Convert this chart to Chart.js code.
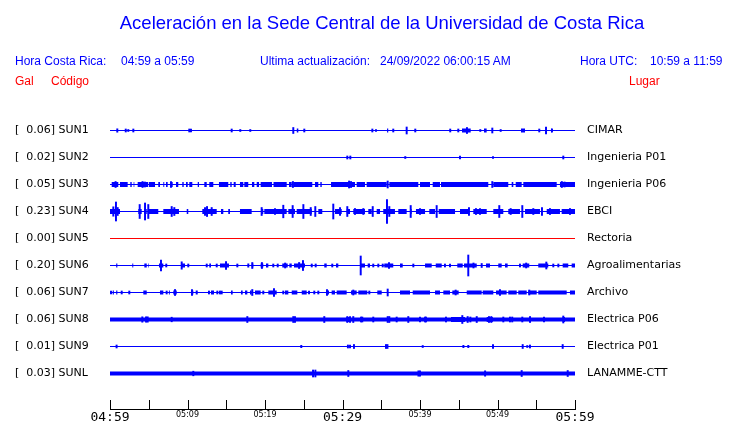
<!DOCTYPE html>
<html>
<head>
<meta charset="utf-8">
<script src="https://cdn.jsdelivr.net/npm/chart.js@4.4.0/dist/chart.umd.min.js"></script>
<style>
body { margin: 0; background: #fff; }
#wrap { position: relative; width: 740px; height: 423px; font-family: "Liberation Sans", Arial, sans-serif; }
#wrap canvas { position: absolute; left: 0; top: 0; }
.t { position: absolute; white-space: pre; font-size: 12px; line-height: 14px; color: #0000ff; }
.red { color: #ff0000; }
#title { position: absolute; left: 0; width: 764px; top: 12px; text-align: center; font-size: 18.5px; line-height: 22px; color: #0000ff; }
</style>
</head>
<body>
<div id="wrap">
  <canvas id="chart" width="740" height="423"></canvas>
  <div id="title">Aceleración en la Sede Central de la Universidad de Costa Rica</div>
  <span class="t" style="left:15px;top:54px">Hora Costa Rica:</span>
  <span class="t" style="left:121px;top:54px">04:59 a 05:59</span>
  <span class="t" style="left:260px;top:54px">Ultima actualización:</span>
  <span class="t" style="left:380px;top:54px">24/09/2022 06:00:15 AM</span>
  <span class="t" style="left:580px;top:54px">Hora UTC:</span>
  <span class="t" style="left:650px;top:54px">10:59 a 11:59</span>
  <span class="t red" style="left:15px;top:74px">Gal</span>
  <span class="t red" style="left:51px;top:74px">Código</span>
  <span class="t red" style="left:629px;top:74px">Lugar</span>
</div>
<script>
// stations, top to bottom
const CODES = ['SUN1', 'SUN2', 'SUN3', 'SUN4', 'SUN5', 'SUN6', 'SUN7', 'SUN8', 'SUN9', 'SUNL'];
const PEAKS = [0.06, 0.02, 0.05, 0.23, 0.00, 0.20, 0.06, 0.06, 0.01, 0.03];
const PLACES = ['CIMAR', 'Ingenieria P01', 'Ingenieria P06', 'EBCI', 'Rectoria',
  'Agroalimentarias', 'Archivo', 'Electrica P06', 'Electrica P01', 'LANAMME-CTT'];

// minutes after 04:59
const TIME_TICKS = [0, 5, 10, 15, 20, 25, 30, 35, 40, 45, 50, 55, 60];
const TIME_LABELS = ['04:59', '', '05:09', '', '05:19', '', '05:29', '', '05:39', '', '05:49', '', '05:59'];

// spikes: [minute, half amplitude]; bursts: [from minute, to minute]
const sun1Spikes = [[0.94, 1.7], [2.03, 1.5], [2.36, 1], [3.01, 1.5], [10.23, 1.5], [10.45, 1.5], [15.70, 1.5],
  [16.81, 1], [18.10, 1], [23.65, 3], [25.07, 1.5], [33.85, 1.5], [34.32, 1], [36.55, 1.5], [38.28, 3.5],
  [39.39, 1.5], [43.90, 1.5], [44.94, 1.5], [46.06, 3], [47.78, 1], [49.33, 2.5], [50.41, 1], [55.39, 1.5],
  [56.26, 3.5], [57.03, 1.5]];
const sun1Bursts = [[24.1, 24.3], [35.75, 35.9], [45.42, 46.54], [48.26, 48.6], [53.03, 53.55], [56.9, 57.1]];

const sun2Spikes = [[30.62, 1.5], [31.01, 1.5], [38.10, 1], [45.16, 1.5], [49.42, 1], [58.49, 1.5]];
const sun2Bursts = [];

const sun3Spikes = [[0.72, 3], [4.2, 3], [4.5, 2.5], [7.87, 3], [23.6, 3], [30.85, 3.5], [31.1, 3],
  [35.83, 3.5], [49.33, 3], [58.3, 3], [58.65, 2.5]];
const sun3Bursts = [[0.22, 1.07], [1.29, 2.28], [2.62, 2.80], [3.05, 3.14], [3.57, 4.9], [5.0, 5.81],
  [6.23, 6.45], [6.88, 7.0], [7.23, 7.44], [7.87, 8.09], [8.52, 8.81], [9.33, 9.51], [9.81, 10.03],
  [10.23, 10.62], [11.32, 11.48], [12.17, 12.48], [12.81, 13.33], [14.06, 15.26], [15.52, 15.70],
  [15.96, 16.22], [16.77, 17.20], [17.33, 17.84], [18.32, 18.62], [18.93, 19.23], [19.44, 20.9],
  [21.1, 22.80], [23.1, 23.45], [23.65, 26.10], [26.45, 26.88], [27.14, 27.32], [28.52, 31.61],
  [31.83, 32.90], [33.12, 35.70], [36.04, 39.78], [40.00, 41.29], [41.64, 42.58], [42.71, 48.81],
  [49.46, 51.39], [51.83, 52.04], [52.35, 53.12], [53.33, 57.64], [58.06, 60]];

const sun4Spikes = [[0.43, 4.7], [0.77, 9.5], [0.99, 4], [3.83, 7], [4.52, 8.5], [4.94, 7], [7.96, 5],
  [8.30, 4], [12.26, 4], [12.52, 5], [13.12, 4], [19.57, 4], [21.29, 3], [22.36, 6.3], [23.57, 6],
  [24.95, 7], [25.9, 4], [26.49, 5], [28.81, 7.5], [29.68, 4], [30.62, 5], [31.61, 3], [32.69, 3],
  [33.90, 5], [35.74, 12], [36.04, 5], [38.80, 6], [40.0, 3], [42.15, 6], [46.32, 4], [47.22, 3],
  [47.74, 3], [50.23, 6], [51.7, 3], [53.20, 6], [54.62, 3], [55.74, 4], [56.77, 3], [59.35, 3]];
const sun4Bursts = [[0, 1.29], [3.65, 4.09], [4.39, 4.74], [4.86, 6.23], [6.88, 8.90], [9.90, 10.10],
  [11.91, 13.77], [14.32, 14.62], [15.26, 15.48], [16.77, 18.28], [19.48, 19.78], [19.91, 22.80],
  [23.01, 23.87], [24.09, 26.03], [26.88, 27.39], [29.03, 29.90], [30.54, 30.97], [31.39, 32.90],
  [33.33, 33.77], [34.41, 34.84], [35.26, 36.77], [37.20, 38.28], [38.71, 38.93], [39.48, 40.65],
  [41.20, 41.94], [42.41, 44.52], [45.16, 46.23], [46.88, 48.61], [49.46, 50.75], [51.39, 52.90],
  [53.55, 55.48], [56.35, 58.06], [58.28, 60]];

const sun5Spikes = [];
const sun5Bursts = [];

const sun6Spikes = [[6.58, 5.5], [7.26, 1.5], [9.25, 3.7], [10.10, 1.5], [12.48, 1.5], [13.77, 1.5],
  [14.97, 4], [16.43, 1.5], [18.36, 3], [19.6, 3], [21.07, 1.5], [21.64, 1.5], [22.6, 2.5], [24.4, 3],
  [24.9, 5], [26.03, 1.5], [26.54, 1.5], [28.68, 1.5], [32.35, 9.5], [33.97, 1.5], [34.62, 1.5],
  [35.19, 1.5], [36.0, 3], [39.14, 1.5], [43.22, 1.5], [43.87, 1.5], [46.23, 10.5], [46.9, 2.5],
  [47.96, 2], [52.90, 1.5], [53.7, 2.5], [56.3, 3.5], [57.2, 1.5], [57.85, 1.5]];
const sun6Bursts = [[0.8, 0.95], [2.88, 3.0], [4.43, 4.74], [4.9, 4.98], [6.32, 6.88], [9.16, 9.68],
  [12.81, 13.03], [14.19, 15.35], [17.72, 17.97], [18.28, 18.49], [19.44, 19.78], [20.13, 20.43],
  [22.23, 22.93], [23.14, 23.45], [23.74, 25.16], [27.65, 27.96], [29.16, 29.46], [32.26, 32.90],
  [33.25, 33.55], [35.39, 36.55], [37.42, 37.77], [40.65, 41.51], [42.03, 42.80], [44.81, 45.51],
  [45.68, 47.32], [48.52, 49.03], [50.10, 50.54], [50.97, 51.31], [53.25, 54.10], [55.26, 56.55],
  [58.41, 59.13], [59.57, 60]];

const sun7Spikes = [[0.13, 1.5], [1.51, 1.5], [2.49, 1.5], [7.31, 1.5], [8.39, 3], [10.58, 3],
  [12.77, 1.5], [13.85, 1.5], [14.19, 1.5], [14.41, 1.5], [18.36, 3], [19.78, 1.5], [21.16, 4],
  [22.36, 1.5], [25.68, 1.5], [26.36, 1.5], [26.88, 1.5], [28.0, 3], [31.39, 2.5], [33.46, 1.5],
  [35.83, 3.5], [44.6, 2.5], [50.32, 3], [54.1, 2.5]];
const sun7Bursts = [[0.35, 0.5], [0.8, 0.95], [4.30, 4.74], [6.45, 6.88], [7.6, 7.72], [8.17, 8.61],
  [10.45, 10.75], [11.06, 11.32], [13.03, 13.42], [15.61, 15.83], [16.90, 17.12], [17.42, 17.72],
  [18.06, 18.28], [18.71, 19.44], [20.43, 21.51], [22.58, 23.01], [23.45, 24.17], [24.74, 25.38],
  [27.87, 28.26], [28.60, 29.03], [29.25, 30.54], [31.10, 31.83], [32.04, 33.20], [34.49, 35.06],
  [37.42, 38.71], [39.06, 41.29], [41.94, 42.58], [43.01, 43.87], [44.17, 44.99], [46.03, 47.96],
  [48.09, 49.46], [49.81, 51.18], [51.39, 52.48], [52.68, 53.77], [53.97, 55.06], [55.26, 58.93],
  [59.35, 60]];

const sun8Spikes = [[4.17, 2.7], [4.65, 2.7], [4.86, 2.7], [7.96, 2.3], [17.72, 3], [23.65, 3], [23.87, 3],
  [27.65, 3], [30.62, 3], [30.97, 3], [31.39, 3], [32.39, 2.5], [32.55, 2.5], [33.97, 2.5], [35.83, 3],
  [36.04, 3], [36.99, 2.5], [38.49, 3], [40.0, 2.5], [40.65, 2.5], [40.77, 2.5], [43.35, 2.5], [45.46, 4],
  [46.15, 3], [46.5, 2.5], [47.32, 3], [48.9, 3], [49.2, 3], [50.75, 2.5], [51.61, 2.5], [51.9, 2.5],
  [53.2, 2.5], [54.2, 3], [56.0, 2.5], [58.49, 3.5]];
const sun8Bursts = [[30.5, 31.0], [44.0, 45.8], [48.6, 49.4], [54.06, 54.32], [58.41, 58.71]];

const sun9Spikes = [[0.85, 1.5], [24.68, 1.2], [30.7, 1.5], [30.97, 1.5], [31.48, 2], [35.61, 2], [35.8, 2],
  [40.35, 1], [45.6, 1.2], [46.23, 1.2], [49.42, 2], [53.25, 2], [53.84, 1], [54.19, 1.5], [58.41, 2]];
const sun9Bursts = [];

const sunlSpikes = [[10.75, 2.3], [26.2, 3.5], [26.5, 3.5], [30.75, 3], [39.8, 2.7], [40.0, 2.7],
  [48.4, 2.7], [53.12, 3], [59.06, 3]];
const sunlBursts = [];

const SPIKES = [sun1Spikes, sun2Spikes, sun3Spikes, sun4Spikes, sun5Spikes,
  sun6Spikes, sun7Spikes, sun8Spikes, sun9Spikes, sunlSpikes];
const BURSTS = [sun1Bursts, sun2Bursts, sun3Bursts, sun4Bursts, sun5Bursts,
  sun6Bursts, sun7Bursts, sun8Bursts, sun9Bursts, sunlBursts];

// line widths per trace (baseline, burst)
const TRACE_STYLE = [[1, 4], [1, 4], [1, 5], [1, 5], [1, 4], [1, 4], [1, 4], [4, 5], [1, 4], [4, 6]];
const ROW_GAP = 27;

const datasets = [];
CODES.forEach(function (code, i) {
  const c = -ROW_GAP * i;
  const color = PEAKS[i] === 0 ? '#ff0000' : '#0000ff';
  datasets.push({
    type: 'line', label: code,
    data: [{ x: 0, y: c }, { x: 60, y: c }],
    borderColor: color, borderWidth: TRACE_STYLE[i][0], pointRadius: 0
  });
  if (BURSTS[i].length) {
    const pts = [];
    BURSTS[i].forEach(function (b) {
      pts.push({ x: b[0], y: c }, { x: b[1], y: c }, { x: b[1], y: null });
    });
    datasets.push({
      type: 'line', data: pts, borderColor: color, borderWidth: TRACE_STYLE[i][1],
      pointRadius: 0, spanGaps: false, borderCapStyle: 'butt'
    });
  }
  if (SPIKES[i].length) {
    datasets.push({
      type: 'bar',
      data: SPIKES[i].map(function (s) { return { x: s[0], y: [c - s[1], c + s[1]] }; }),
      backgroundColor: color, barThickness: 1.3, grouped: false
    });
  }
});

const rowTicks = function (scale) {
  scale.ticks = CODES.map(function (_, i) { return { value: -ROW_GAP * i }; });
};

const upTicks = {
  id: 'upTicks',
  afterDraw: function (chart) {
    const xs = chart.scales.x;
    const ctx = chart.ctx;
    const bottom = chart.chartArea.bottom;
    ctx.save();
    ctx.strokeStyle = '#000';
    ctx.lineWidth = 1;
    TIME_TICKS.forEach(function (v) {
      const px = Math.round(xs.getPixelForValue(v)) + 0.5;
      ctx.beginPath();
      ctx.moveTo(px, bottom);
      ctx.lineTo(px, bottom - 9);
      ctx.stroke();
    });
    ctx.restore();
  }
};

new Chart(document.getElementById('chart'), {
  type: 'line',
  data: { datasets: datasets },
  plugins: [upTicks],
  options: {
    responsive: false,
    animation: false,
    events: [],
    layout: { padding: { left: 15, top: 118, right: 0, bottom: 0 } },
    plugins: { legend: { display: false }, tooltip: { enabled: false } },
    scales: {
      x: {
        type: 'linear', min: 0, max: 60, offset: false,
        afterBuildTicks: function (scale) {
          scale.ticks = TIME_TICKS.map(function (v) { return { value: v }; });
        },
        afterFit: function (scale) { scale.height = 14; scale.paddingLeft = 0; scale.paddingRight = 0; },
        grid: { display: true, drawOnChartArea: false, drawTicks: false },
        border: { display: true, color: '#000', width: 1 },
        ticks: {
          autoSkip: false, maxRotation: 0, padding: 1, color: '#000',
          font: function (ctx) {
            return ctx.index % 6 === 0
              ? { family: 'DejaVu Sans Mono', size: 13 }
              : { family: 'DejaVu Sans', size: 8 };
          },
          callback: function (v, i) { return TIME_LABELS[i]; }
        }
      },
      y: {
        type: 'linear', position: 'left', min: 12.5 - 291, max: 12.5,
        afterBuildTicks: rowTicks,
        afterFit: function (scale) { scale.width = 95; scale.paddingTop = 0; scale.paddingBottom = 0; },
        grid: { display: false, drawTicks: false }, border: { display: false },
        ticks: {
          crossAlign: 'far', color: '#000', font: { family: 'DejaVu Sans', size: 11 },
          callback: function (v) {
            const i = Math.round(-v / ROW_GAP);
            return '[  ' + PEAKS[i].toFixed(2) + '] ' + CODES[i];
          }
        }
      },
      y2: {
        type: 'linear', position: 'right', min: 12.5 - 291, max: 12.5,
        afterBuildTicks: rowTicks,
        afterFit: function (scale) { scale.width = 165; scale.paddingTop = 0; scale.paddingBottom = 0; },
        grid: { display: false, drawTicks: false }, border: { display: false },
        ticks: {
          padding: 12, color: '#000', font: { family: 'DejaVu Sans', size: 11 },
          callback: function (v) { return PLACES[Math.round(-v / ROW_GAP)]; }
        }
      }
    }
  }
});
</script>
</body>
</html>
